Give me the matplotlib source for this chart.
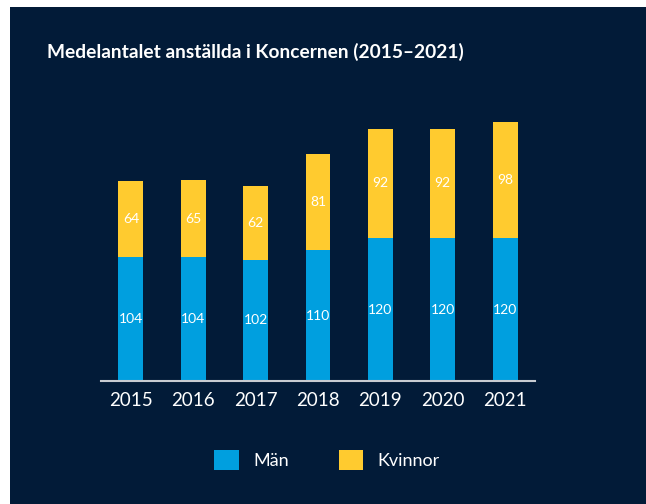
import matplotlib
matplotlib.use("Agg")
import matplotlib.pyplot as plt
from matplotlib.patches import Rectangle

years = ["2015", "2016", "2017", "2018", "2019", "2020", "2021"]
man = [104, 104, 102, 110, 120, 120, 120]
kvinnor = [64, 65, 62, 81, 92, 92, 98]

BG = "#021b38"
BLUE = "#009fdf"
YELLOW = "#ffcb2f"
W, H = 646, 504

plt.rcParams['font.family'] = ['Lato', 'DejaVu Sans']

fig = plt.figure(figsize=(W/100, H/100), dpi=100, facecolor="white")
fig.patches.append(Rectangle((10/W, 0), 1 - 10/W, 1 - 7/H, transform=fig.transFigure,
                             facecolor=BG, edgecolor="none", zorder=-10))

ax = fig.add_axes([101/W, 1 - 381/H, (535-101)/W, (381-95)/H])
ax.set_zorder(1)
ax.set_facecolor("none")
x = list(range(len(years)))
ax.bar(x, man, width=0.40, color=BLUE, label="Män", zorder=2)
ax.bar(x, kvinnor, width=0.40, bottom=man, color=YELLOW, label="Kvinnor", zorder=2)
for i in x:
    ax.text(i, man[i]/2, str(man[i]), ha="center", va="center", color="white", fontsize=10)
    ax.text(i, man[i] + kvinnor[i]/2, str(kvinnor[i]), ha="center", va="center", color="white", fontsize=10)

ax.set_xlim(-0.48, 6.48)
ax.set_ylim(0, 286/1.19)
ax.set_xticks(x)
ax.set_xticklabels(years, color="white", fontsize=13.5)
ax.tick_params(axis="x", length=0, pad=8)
ax.set_yticks([])
for s in ["top", "right", "left"]:
    ax.spines[s].set_visible(False)
ax.spines["bottom"].set_color("#c8ccd2")
ax.spines["bottom"].set_linewidth(1.5)

fig.text(47/W, 1 - 52/H, "Medelantalet anställda i Koncernen (2015–2021)", color="white",
         fontsize=13.8, fontweight="bold", ha="left", va="center")

leg = fig.legend(loc="center", bbox_to_anchor=(327/W, 1 - 460/H), ncol=2, frameon=False,
                 fontsize=13, labelcolor="white", handlelength=1.35, handleheight=1.35,
                 columnspacing=2.75, handletextpad=0.8)

fig.savefig("out.png", dpi=100, facecolor="white")
